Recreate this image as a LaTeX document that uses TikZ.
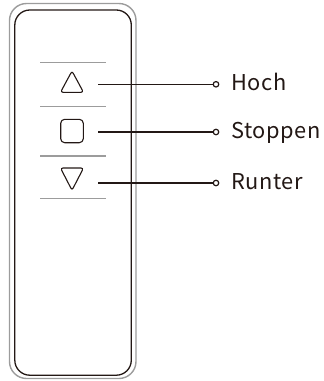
\documentclass[tikz,border=0pt]{standalone}
\usepackage{fontspec}
\setmainfont{Noto Sans CJK SC}[LetterSpace=2.5]
\definecolor{ink}{HTML}{231815}
\definecolor{lightgrey}{HTML}{9C9C9C}
\begin{document}
\begin{tikzpicture}[x=1pt,y=-1pt,
  ink/.style={draw=ink,line width=1.1pt},
  sep/.style={draw=lightgrey,line width=1.3pt},
  dot/.style={circle,draw=ink,line width=1.2pt,fill=white,minimum size=5.5pt,inner sep=0pt},
  lbl/.style={anchor=base west,inner sep=0pt,text=ink,font=\fontsize{21.8}{25}\selectfont},
  wire/.style={draw=ink,line width=1.1pt}]
\useasboundingbox (0,0) rectangle (324,381);
% casing
\draw[draw=lightgrey,line width=1.4pt,rounded corners=17pt] (9.5,3.5) rectangle (136,378.5);
\draw[ink,line width=1.3pt,rounded corners=15pt] (14.8,10) rectangle (131.3,375.2);
% separators
\foreach \yy in {62.5,106.5,156,198.5}
  \draw[sep] (40,\yy) -- (106,\yy);
% icons
\draw[ink,rounded corners=2.5pt] (72,71) -- (83.5,92.3) -- (60.5,92.3) -- cycle;
\draw[ink,rounded corners=4pt] (60.7,119.3) rectangle (83.3,142.7);
\draw[ink,rounded corners=2.5pt] (60.5,168) -- (83.5,168) -- (72,190.3) -- cycle;
% connectors
\coordinate (s1) at (98,84.3);
\coordinate (s2) at (98,132);
\coordinate (s3) at (98,183);
\node[dot] (d1) at (216,84.3) {};
\node[dot] (d2) at (216,132) {};
\node[dot] (d3) at (216,183) {};
\draw[wire] (s1) -- (d1.west);
\draw[wire] (s2) -- (d2.west);
\draw[wire] (s3) -- (d3.west);
\node[lbl] (t1) at (231,90.8) {Hoch};
\node[lbl] (t2) at (231,138.5) {Stoppen};
\node[lbl] (t3) at (231,189.5) {Runter};
\end{tikzpicture}
\end{document}
